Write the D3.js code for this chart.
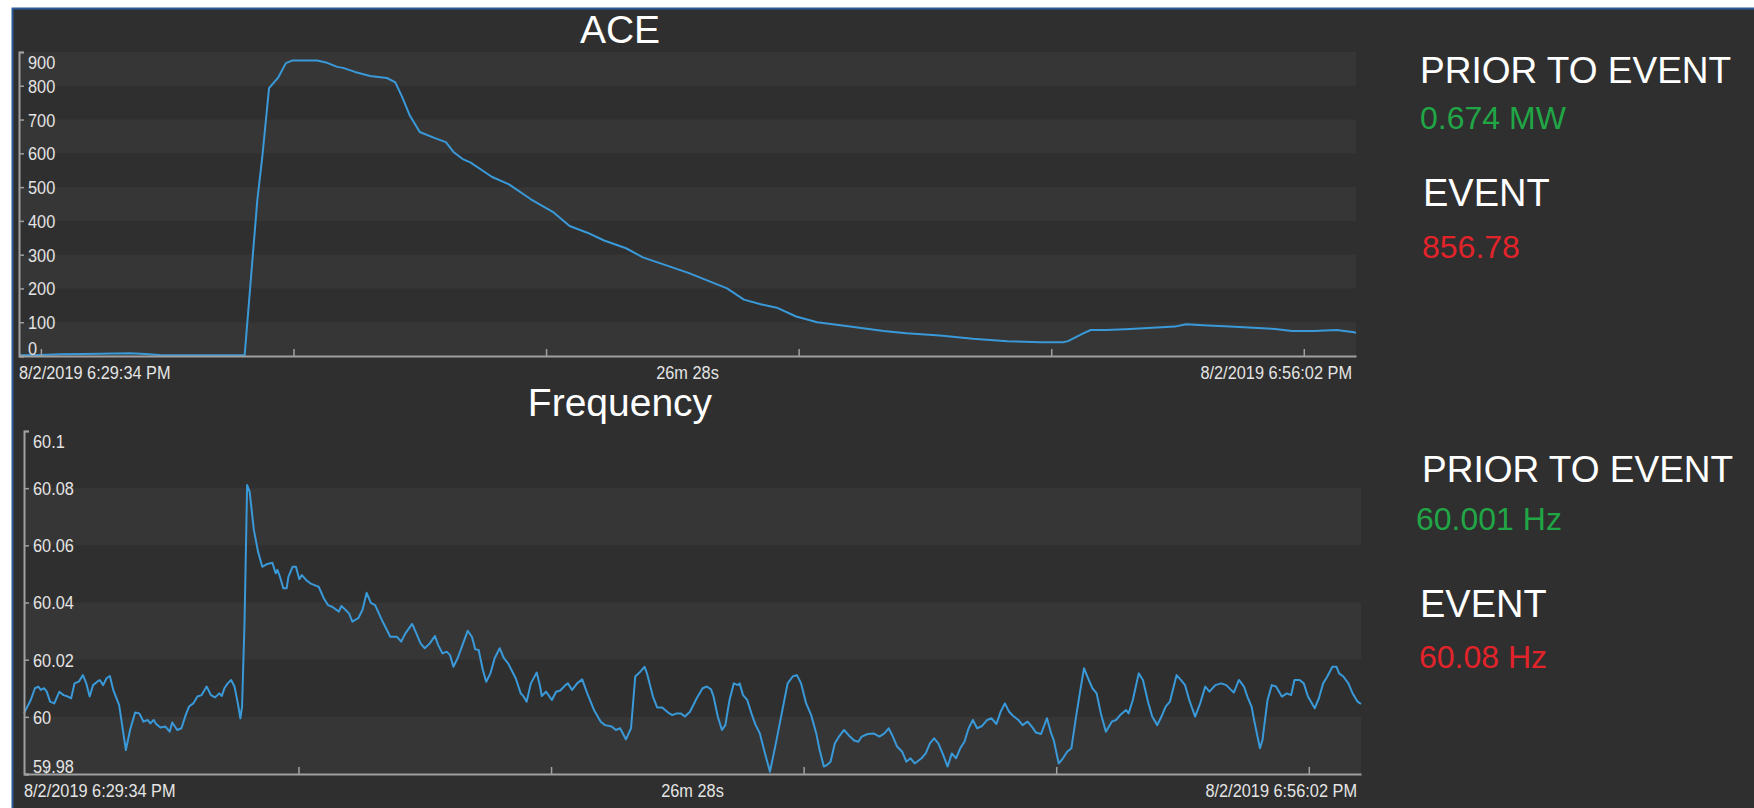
<!DOCTYPE html>
<html>
<head>
<meta charset="utf-8">
<script src="https://cdn.jsdelivr.net/npm/d3@7"></script>
<style>
body { margin: 0; background: #fff; }
svg { display: block; }
.axis-label { font-family: "Liberation Sans", Arial, sans-serif; font-size: 19px; fill: #e4e4e4; }
.title { font-family: "Liberation Sans", Arial, sans-serif; font-size: 39px; fill: #fff; }
.callout { font-family: "Liberation Sans", Arial, sans-serif; }
</style>
</head>
<body>
<svg id="chart" width="1754" height="808"></svg>
<script>
// time axis
const startTime = new Date(2019, 7, 2, 18, 29, 34);
const endTime = new Date(2019, 7, 2, 18, 56, 2);
const startLabel = '8/2/2019 6:29:34 PM';
const midLabel = '26m 28s';
const endLabel = '8/2/2019 6:56:02 PM';

// ACE (seconds after start, MW)
const aceSec = [0, 25, 49, 75, 96, 132, 150, 167, 215, 268, 283, 289, 297, 308, 317, 325, 354, 366, 378, 385,
	399, 417, 437, 447, 455, 464, 476, 494, 507, 516, 527, 536, 562, 582, 608, 635, 654, 675, 695, 721,
	741, 768, 795, 821, 841, 861, 881, 900, 923, 948, 987, 1027, 1054, 1094, 1133, 1174, 1213, 1240, 1246, 1264,
	1273, 1292, 1320, 1346, 1373, 1386, 1412, 1438, 1466, 1492, 1512, 1538, 1565, 1586, 1588];
const aceMW = [2, 3, 5, 6, 7, 8, 6, 3, 2, 2, 460, 590, 793, 825, 867, 875, 875, 868, 856, 853,
	841, 829, 823, 810, 767, 713, 663, 645, 633, 604, 583, 573, 530, 508, 464, 425, 385, 365, 342, 319,
	292, 269, 246, 220, 200, 167, 153, 143, 117, 100, 87, 74, 67, 61, 51, 44, 41, 41, 44, 67,
	77, 77, 80, 84, 87, 94, 90, 87, 84, 80, 74, 74, 77, 70, 68];
const aceTicks = [0, 100, 200, 300, 400, 500, 600, 700, 800, 900];

// Frequency (seconds after start, Hz)
const freqSec = [0, 8, 13, 17, 20, 24, 27, 31, 36, 42, 47, 52, 56, 60, 65, 70, 74, 78, 82, 87,
	90, 94, 98, 102, 106, 113, 121, 126, 132, 137, 142, 147, 150, 154, 157, 162, 168, 173, 176, 182,
	187, 192, 196, 201, 206, 211, 217, 222, 227, 232, 235, 238, 242, 246, 250, 254, 257, 259, 262, 265,
	268, 273, 278, 283, 289, 295, 299, 301, 304, 308, 312, 314, 319, 323, 327, 330, 335, 340, 345, 350,
	356, 361, 366, 374, 377, 382, 386, 390, 397, 402, 407, 412, 417, 425, 430, 435, 443, 448, 453, 461,
	466, 471, 476, 482, 488, 492, 497, 502, 506, 510, 515, 520, 527, 532, 536, 540, 545, 549, 554, 559,
	565, 570, 575, 579, 584, 590, 593, 597, 602, 609, 613, 615, 620, 627, 632, 637, 643, 646, 651, 657,
	663, 669, 677, 685, 690, 698, 703, 708, 715, 721, 726, 732, 737, 740, 747, 752, 758, 765, 770, 775,
	780, 785, 791, 799, 806, 811, 816, 819, 824, 829, 833, 838, 843, 848, 850, 854, 859, 864, 869, 874,
	879, 886, 893, 900, 907, 913, 918, 923, 929, 935, 941, 945, 950, 954, 958, 963, 968, 974, 981, 986,
	991, 995, 1002, 1009, 1016, 1022, 1027, 1032, 1037, 1043, 1048, 1053, 1058, 1066, 1071, 1076, 1081, 1086, 1091, 1097,
	1102, 1107, 1112, 1117, 1122, 1127, 1132, 1138, 1144, 1149, 1155, 1160, 1165, 1170, 1175, 1181, 1186, 1192, 1197, 1202,
	1208, 1215, 1220, 1223, 1229, 1234, 1239, 1244, 1249, 1254, 1259, 1263, 1269, 1274, 1279, 1285, 1292, 1297, 1302, 1309,
	1312, 1317, 1324, 1329, 1335, 1340, 1346, 1351, 1356, 1361, 1369, 1374, 1379, 1384, 1391, 1397, 1403, 1408, 1415, 1422,
	1428, 1433, 1437, 1443, 1449, 1453, 1458, 1461, 1468, 1471, 1477, 1482, 1487, 1494, 1500, 1505, 1509, 1515, 1520, 1525,
	1533, 1538, 1543, 1548, 1554, 1559, 1562, 1567, 1573, 1578, 1584, 1588];
const freqHz = [60.0012, 60.0059, 60.0100, 60.0106, 60.0094, 60.0100, 60.0088, 60.0053, 60.0047, 60.0088, 60.0076, 60.0071, 60.0065, 60.0117, 60.0123, 60.0146, 60.0117, 60.0071, 60.0111, 60.0123,
	60.0129, 60.0111, 60.0135, 60.0143, 60.0094, 60.0041, 59.9884, 59.9954, 60.0015, 60.0012, 59.9983, 59.9989, 59.9977, 59.9989, 59.9975, 59.9963, 59.9966, 59.9948, 59.9980, 59.9954,
	59.9960, 60.0006, 60.0036, 60.0047, 60.0071, 60.0076, 60.0106, 60.0076, 60.0068, 60.0082, 60.0073, 60.0100, 60.0117, 60.0129, 60.0106, 60.0047, 59.9995, 60.0036, 60.0339, 60.0811,
	60.0788, 60.0654, 60.0578, 60.0525, 60.0535, 60.0539, 60.0502, 60.0514, 60.0490, 60.0450, 60.0450, 60.0490, 60.0525, 60.0525, 60.0481, 60.0496, 60.0479, 60.0467, 60.0461, 60.0455,
	60.0415, 60.0391, 60.0385, 60.0368, 60.0388, 60.0374, 60.0362, 60.0333, 60.0345, 60.0374, 60.0434, 60.0399, 60.0391, 60.0339, 60.0310, 60.0280, 60.0280, 60.0263, 60.0292, 60.0325,
	60.0292, 60.0257, 60.0240, 60.0257, 60.0283, 60.0251, 60.0222, 60.0228, 60.0216, 60.0175, 60.0205, 60.0245, 60.0301, 60.0280, 60.0236, 60.0234, 60.0164, 60.0123, 60.0152, 60.0205,
	60.0240, 60.0205, 60.0187, 60.0164, 60.0135, 60.0082, 60.0073, 60.0053, 60.0117, 60.0155, 60.0106, 60.0073, 60.0088, 60.0059, 60.0088, 60.0092, 60.0111, 60.0117, 60.0094, 60.0117,
	60.0131, 60.0082, 60.0024, 59.9983, 59.9971, 59.9966, 59.9954, 59.9960, 59.9921, 59.9960, 60.0141, 60.0158, 60.0175, 60.0152, 60.0071, 60.0033, 60.0033, 60.0015, 60.0006, 60.0012,
	60.0012, 60.0001, 60.0018, 60.0065, 60.0100, 60.0106, 60.0096, 60.0071, 60.0001, 59.9954, 59.9971, 60.0059, 60.0117, 60.0111, 60.0117, 60.0076, 60.0059, 60.0012, 59.9971, 59.9942,
	59.9884, 59.9808, 59.9907, 60.0012, 60.0117, 60.0141, 60.0146, 60.0117, 60.0047, 60.0006, 59.9942, 59.9884, 59.9826, 59.9832, 59.9843, 59.9907, 59.9931, 59.9954, 59.9931, 59.9917,
	59.9913, 59.9931, 59.9940, 59.9942, 59.9931, 59.9942, 59.9960, 59.9931, 59.9896, 59.9878, 59.9843, 59.9855, 59.9837, 59.9855, 59.9872, 59.9907, 59.9925, 59.9907, 59.9872, 59.9826,
	59.9872, 59.9855, 59.9890, 59.9913, 59.9960, 59.9989, 59.9960, 59.9968, 59.9989, 59.9995, 59.9975, 60.0018, 60.0047, 60.0018, 60.0003, 59.9989, 59.9971, 59.9983, 59.9966, 59.9945,
	59.9940, 59.9995, 59.9942, 59.9919, 59.9837, 59.9855, 59.9878, 59.9890, 59.9989, 60.0082, 60.0170, 60.0141, 60.0100, 60.0082, 60.0012, 59.9948, 59.9983, 59.9989, 60.0006, 60.0024,
	60.0012, 60.0059, 60.0152, 60.0129, 60.0053, 60.0001, 59.9971, 60.0001, 60.0036, 60.0053, 60.0146, 60.0129, 60.0111, 60.0059, 60.0001, 60.0047, 60.0106, 60.0088, 60.0111, 60.0117,
	60.0111, 60.0096, 60.0085, 60.0129, 60.0106, 60.0071, 60.0036, 59.9989, 59.9890, 59.9919, 60.0059, 60.0111, 60.0106, 60.0071, 60.0082, 60.0076, 60.0129, 60.0129, 60.0117, 60.0071,
	60.0030, 60.0065, 60.0117, 60.0141, 60.0175, 60.0175, 60.0152, 60.0141, 60.0117, 60.0082, 60.0053, 60.0045];
const freqTicks = [59.98, 60, 60.02, 60.04, 60.06, 60.08, 60.1];

// side panel
const calloutLabels = ['PRIOR TO EVENT', 'EVENT', 'PRIOR TO EVENT', 'EVENT'];
const calloutValues = ['0.674 MW', '856.78', '60.001 Hz', '60.08 Hz'];

// axis text is a squeezed sans
const narrow = 0.86;

const svg = d3.select('#chart');

svg.append('rect')
	.attr('x', 12.5).attr('y', 8.5)
	.attr('width', 1760).attr('height', 820)
	.attr('fill', '#2f2f2f')
	.attr('stroke', '#2b5a9a')
	.attr('stroke-width', 2);

const toDate = s => new Date(startTime.getTime() + s * 1000);

const drawChart = ({ title, titleY, sec, vals, ticks, left, right, top, bottom }) => {
	const x = d3.scaleTime().domain([startTime, endTime]).range([left, right]);
	const y = d3.scaleLinear().domain([ticks[0], ticks[ticks.length - 1]]).range([bottom, top]);
	const g = svg.append('g');

	g.append('g')
		.selectAll('rect')
		.data(d3.pairs(ticks))
		.enter()
		.append('rect')
		.attr('x', left)
		.attr('width', right - left)
		.attr('y', d => y(d[1]))
		.attr('height', d => y(d[0]) - y(d[1]))
		.attr('fill', (d, i) => (i % 2 === 0 ? '#363636' : 'none'));

	g.append('path')
		.datum(d3.zip(sec, vals))
		.attr('fill', 'none')
		.attr('stroke', '#3a99d8')
		.attr('stroke-width', 2)
		.attr('stroke-linejoin', 'round')
		.attr('d', d3.line().x(d => x(toDate(d[0]))).y(d => y(d[1])));

	const xAxis = g.append('g')
		.attr('transform', `translate(0,${bottom})`)
		.call(d3.axisBottom(x).ticks(d3.timeMinute.every(5)).tickSize(-7).tickSizeOuter(0).tickFormat(''));

	const yAxis = g.append('g')
		.attr('transform', `translate(${left},0)`)
		.call(d3.axisRight(y).tickValues(ticks).tickSize(5).tickSizeOuter(5).tickPadding(4)
			.tickFormat(d => String(+d.toFixed(2))));

	[xAxis, yAxis].forEach(a => {
		a.select('.domain').attr('stroke', '#a0a0a0').attr('stroke-width', 2);
		a.selectAll('.tick line').attr('stroke', '#a0a0a0').attr('stroke-width', 1.5);
	});

	yAxis.attr('font-size', null).attr('font-family', null);
	yAxis.selectAll('.tick text')
		.attr('class', 'axis-label')
		.attr('fill', null)
		.attr('x', 9 / narrow)
		.attr('transform', `scale(${narrow},1)`)
		.attr('dy', (d, i) => (i === 0 ? '-0.1em' : i === ticks.length - 1 ? '0.86em' : '0.34em'));

	const labelY = bottom + 23;
	[[startLabel, left, 'start'], [midLabel, (left + right) / 2, 'middle'], [endLabel, right - 4, 'end']]
		.forEach(([t, lx, anchor]) => {
			g.append('text')
				.attr('class', 'axis-label')
				.attr('transform', `scale(${narrow},1)`)
				.attr('x', lx / narrow)
				.attr('y', labelY)
				.attr('text-anchor', anchor)
				.text(t);
		});

	g.append('text')
		.attr('class', 'title')
		.attr('x', 620)
		.attr('y', titleY)
		.attr('text-anchor', 'middle')
		.text(title);
};

drawChart({ title: 'ACE', titleY: 43, sec: aceSec, vals: aceMW, ticks: aceTicks, left: 19, right: 1356, top: 52, bottom: 356 });
drawChart({ title: 'Frequency', titleY: 416, sec: freqSec, vals: freqHz, ticks: freqTicks, left: 24, right: 1361, top: 431, bottom: 774 });

// side callouts
const calloutPos = [
	{ lx: 1420, ly: 83, vx: 1420, vy: 129 },
	{ lx: 1423, ly: 206, vx: 1422, vy: 258 },
	{ lx: 1422, ly: 482, vx: 1416, vy: 530 },
	{ lx: 1420, ly: 617, vx: 1419, vy: 668 }
];
const valueColors = ['#21a646', '#e3232a', '#21a646', '#e3232a'];

calloutPos.forEach((p, i) => {
	svg.append('text')
		.attr('class', 'callout')
		.attr('x', p.lx).attr('y', p.ly)
		.attr('font-size', i % 2 === 0 ? 37 : 38)
		.attr('fill', '#fff')
		.text(calloutLabels[i]);
	svg.append('text')
		.attr('class', 'callout')
		.attr('x', p.vx).attr('y', p.vy)
		.attr('font-size', 32)
		.attr('fill', valueColors[i])
		.text(calloutValues[i]);
});
</script>
</body>
</html>
